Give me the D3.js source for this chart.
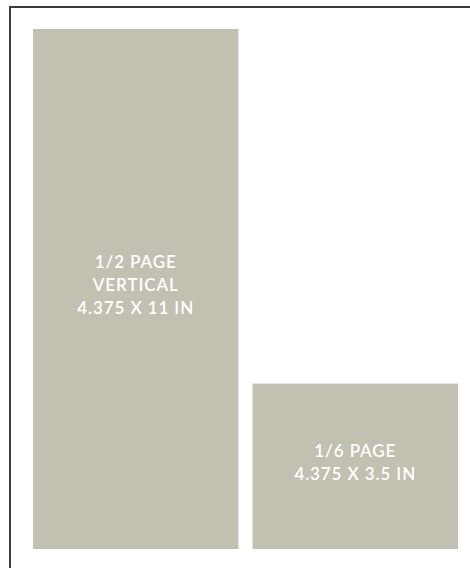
<!DOCTYPE html>
<html>
<head>
<meta charset="utf-8">
<script src="https://cdn.jsdelivr.net/npm/d3@7.9.0/dist/d3.min.js"></script>
<style>
  html, body { margin: 0; padding: 0; background: #fff; }
  svg { display: block; }
</style>
</head>
<body>
<svg id="chart" width="470" height="568"></svg>
<script>
// ad sizes, in inches
const adNames = ['1/2 PAGE VERTICAL', '1/6 PAGE'];
const adLabels = [
    ['1/2 PAGE', 'VERTICAL', '4.375 X 11 IN'],
    ['1/6 PAGE', '4.375 X 3.5 IN']
];
const adWidths = [4.375, 4.375];
const adHeights = [11, 3.5];

const svg = d3.select('#chart');

// page outline (only top and left edges show)
svg.append('path')
    .attr('d', 'M10,568 V7 H470')
    .attr('fill', 'none')
    .attr('stroke', '#3c3c3c')
    .attr('stroke-width', 2);

const gapIn = 0.3;
const totalW = d3.sum(adWidths) + gapIn;

// inch -> pixel scales
const x = d3.scaleLinear().domain([0, totalW]).range([33, 458]);
const y = d3.scaleLinear().domain([0, d3.max(adHeights)]).range([549, 29]);

const ads = adNames.map((name, i) => ({
    name,
    lines: adLabels[i],
    w: adWidths[i],
    h: adHeights[i],
    x0: d3.sum(adWidths.slice(0, i)) + gapIn * i
}));

const g = svg.selectAll('g.ad')
    .data(ads)
    .enter()
    .append('g')
    .attr('class', 'ad');

g.append('rect')
    .attr('x', d => x(d.x0))
    .attr('y', d => y(d.h))
    .attr('width', d => x(d.x0 + d.w) - x(d.x0))
    .attr('height', d => y(0) - y(d.h))
    .attr('fill', '#c2c0b1');

const lineH = 23;
g.each(function (d) {
    const cx = (x(d.x0) + x(d.x0 + d.w)) / 2;
    const cy = (y(d.h) + y(0)) / 2;
    const n = d.lines.length;
    const t = d3.select(this).append('text')
        .attr('text-anchor', 'middle')
        .attr('fill', '#fff')
        .style('font-family', 'Lato, sans-serif')
        .style('font-size', '17px')
        .style('font-weight', 600)
        .style('letter-spacing', '0.9px');
    d.lines.forEach((line, i) => {
        t.append('tspan')
            .attr('x', cx)
            .attr('y', cy + (i - (n - 1) / 2) * lineH + 2)
            .text(line);
    });
});
</script>
</body>
</html>
